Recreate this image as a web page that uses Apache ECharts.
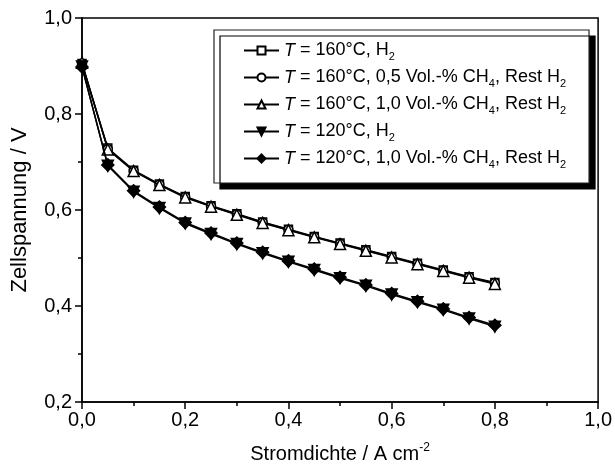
<!DOCTYPE html>
<html><head><meta charset="utf-8">
<script src="https://cdn.jsdelivr.net/npm/echarts@6/dist/echarts.min.js"></script>
<style>html,body{margin:0;padding:0;background:#fff}#c{width:615px;height:474px}</style>
</head><body><div id="c"></div>
<script>
const currentDensity = [0, 0.05, 0.1, 0.15, 0.2, 0.25, 0.3, 0.35, 0.4, 0.45, 0.5, 0.55, 0.6, 0.65, 0.7, 0.75, 0.8];
const v160H2 = [0.905, 0.729, 0.683, 0.654, 0.628, 0.609, 0.592, 0.575, 0.560, 0.545, 0.531, 0.517, 0.503, 0.489, 0.475, 0.461, 0.449];
const v160CH4_05 = [0.904, 0.727, 0.682, 0.653, 0.627, 0.608, 0.591, 0.574, 0.559, 0.544, 0.530, 0.516, 0.502, 0.488, 0.474, 0.460, 0.448];
const v160CH4_10 = [0.907, 0.726, 0.681, 0.652, 0.626, 0.607, 0.590, 0.573, 0.558, 0.543, 0.529, 0.515, 0.501, 0.487, 0.473, 0.459, 0.446];
const v120H2 = [0.899, 0.692, 0.638, 0.604, 0.572, 0.550, 0.529, 0.510, 0.492, 0.475, 0.458, 0.442, 0.424, 0.408, 0.392, 0.374, 0.357];
const v120CH4_10 = [0.898, 0.694, 0.640, 0.606, 0.574, 0.552, 0.531, 0.512, 0.494, 0.477, 0.460, 0.444, 0.426, 0.410, 0.394, 0.376, 0.360];
const legendLabels = [
  '{i|T} = 160°C, H{s|2}',
  '{i|T} = 160°C, 0,5 Vol.-% CH{s|4}, Rest H{s|2}',
  '{i|T} = 160°C, 1,0 Vol.-% CH{s|4}, Rest H{s|2}',
  '{i|T} = 120°C, H{s|2}',
  '{i|T} = 120°C, 1,0 Vol.-% CH{s|4}, Rest H{s|2}'
];
const seriesNames = ['s1', 's2', 's3', 's4', 's5'];
const xTicks = { min: 0, max: 1.0, interval: 0.2 };
const yTicks = { min: 0.2, max: 1.0, interval: 0.2 };

const FONT = 'Liberation Sans, Arial, sans-serif';
const fmt = v => v.toFixed(1).replace('.', ',');
const pairs = arr => currentDensity.map((x, i) => [x, arr[i]]);

const styles = [
  { symbol: 'rect', size: 8, fill: '#fff', rotate: 0 },
  { symbol: 'circle', size: 9, fill: '#fff', rotate: 0 },
  { symbol: 'triangle', size: 11, fill: '#fff', rotate: 0 },
  { symbol: 'triangle', size: 11, fill: '#000', rotate: 180 },
  { symbol: 'diamond', size: 12, fill: '#000', rotate: 0 }
];
const datasets = [v160H2, v160CH4_05, v160CH4_10, v120H2, v120CH4_10];
const labelMap = {};
seriesNames.forEach((n, i) => labelMap[n] = legendLabels[i]);

const chart = echarts.init(document.getElementById('c'), null, { renderer: 'canvas' });
chart.setOption({
  animation: false,
  backgroundColor: '#fff',
  grid: { left: 82, top: 18, right: 13, bottom: 72, show: true, borderColor: '#000', borderWidth: 1.5 },
  xAxis: {
    type: 'value', min: xTicks.min, max: xTicks.max, interval: xTicks.interval,
    name: '{n|Stromdichte / A cm}{p|-2}', nameLocation: 'middle', nameGap: 40,
    nameTextStyle: { rich: { n: { fontFamily: FONT, fontSize: 20, color: '#000', lineHeight: 24 }, p: { fontFamily: FONT, fontSize: 12, color: '#000', lineHeight: 10, verticalAlign: 'top' } } },
    axisLine: { lineStyle: { color: '#000', width: 1.5 } },
    axisTick: { length: 7, lineStyle: { color: '#000', width: 1.5 } },
    minorTick: { show: true, splitNumber: 2, length: 4, lineStyle: { color: '#000', width: 1.5 } },
    axisLabel: { formatter: fmt, fontFamily: FONT, fontSize: 20, color: '#000', margin: 8 },
    splitLine: { show: false }
  },
  yAxis: {
    type: 'value', min: yTicks.min, max: yTicks.max, interval: yTicks.interval,
    name: 'Zellspannung / V', nameLocation: 'middle', nameGap: 51,
    nameTextStyle: { fontFamily: FONT, fontSize: 22, color: '#000' },
    axisLine: { lineStyle: { color: '#000', width: 1.5 } },
    axisTick: { length: 7, lineStyle: { color: '#000', width: 1.5 } },
    minorTick: { show: true, splitNumber: 2, length: 4, lineStyle: { color: '#000', width: 1.5 } },
    axisLabel: { formatter: fmt, fontFamily: FONT, fontSize: 20, color: '#000', margin: 10 },
    splitLine: { show: false }
  },
  legend: {
    orient: 'vertical', left: 214, top: 30,
    padding: [9, 23, 13, 29], itemGap: 4, itemWidth: 35, itemHeight: 10,
    backgroundColor: '#fff', borderColor: '#222', borderWidth: 1.2,
    shadowColor: '#000', shadowBlur: 0, shadowOffsetX: 6, shadowOffsetY: 6,
    data: seriesNames,
    formatter: n => labelMap[n],
    textStyle: {
      fontFamily: FONT, fontSize: 18, color: '#000', lineHeight: 18,
      rich: {
        i: { fontFamily: FONT, fontSize: 18, fontStyle: 'italic', color: '#000', lineHeight: 18 },
        s: { fontFamily: FONT, fontSize: 11, color: '#000', lineHeight: 6, padding: [12, 0, 0, 0] }
      }
    }
  },
  series: seriesNames.map((n, i) => ({
    name: n, type: 'line', data: pairs(datasets[i]),
    symbol: styles[i].symbol, symbolSize: styles[i].size, symbolRotate: styles[i].rotate,
    lineStyle: { color: '#000', width: 1.5 },
    itemStyle: { color: styles[i].fill, borderColor: '#000', borderWidth: 1.5 },
    z: 2 + i
  }))
});
</script></body></html>
